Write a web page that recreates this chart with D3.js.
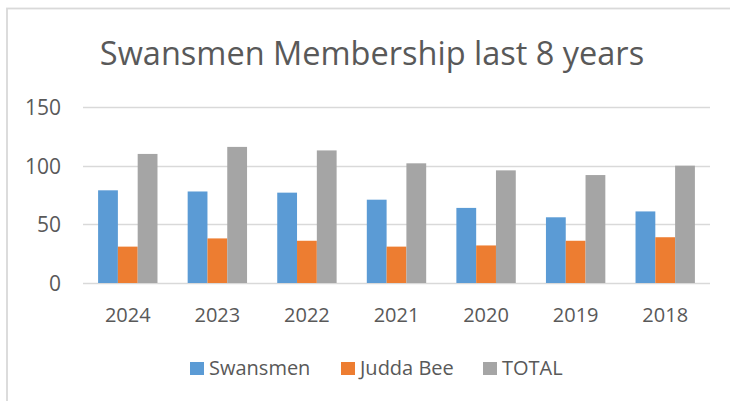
<!DOCTYPE html>
<html>
<head>
<meta charset="utf-8">
<script src="https://cdn.jsdelivr.net/npm/d3@7"></script>
<style>
  body { margin: 0; background: #fff; }
  text { font-family: "Open Sans", "Noto Sans", sans-serif; fill: #595959; }
</style>
</head>
<body>
<div id="chart"></div>
<script>
// Data
let years = ['2024', '2023', '2022', '2021', '2020', '2019', '2018'];
let swansmen = [79, 78, 77, 71, 64, 56, 61];
let juddaBee = [31, 38, 36, 31, 32, 36, 39];
let total = [110, 116, 113, 102, 96, 92, 100];
let seriesNames = ['Swansmen', 'Judda Bee', 'TOTAL'];
let seriesColors = ['#5B9BD5', '#ED7D31', '#A5A5A5'];
let yTicks = [0, 50, 100, 150];

let width = 730;
let height = 401;
let plotLeft = 83, plotRight = 710, plotTop = 107, plotBottom = 283;

let svg = d3.select('#chart').append('svg')
    .attr('width', width)
    .attr('height', height);

// Chart area border (only top and left edges fall inside the picture)
svg.append('rect')
    .attr('x', 7).attr('y', 8.5)
    .attr('width', 740).attr('height', 400)
    .attr('fill', 'none')
    .attr('stroke', '#D9D9D9')
    .attr('stroke-width', 1.8);

// Title
svg.append('text')
    .attr('x', 372).attr('y', 64.5)
    .attr('text-anchor', 'middle')
    .style('font-size', '32.5px')
    .text('Swansmen Membership last 8 years');

// Scales
let xScale = d3.scaleBand().domain(years).range([plotLeft, plotRight]);
let yScale = d3.scaleLinear().domain([0, 150]).range([plotBottom, plotTop]);
let barWidth = xScale.bandwidth() * 0.221;
let groupOffset = (xScale.bandwidth() - 3 * barWidth) / 2;

// Gridlines
svg.append('g').selectAll('line').data(yTicks).enter().append('line')
    .attr('x1', plotLeft).attr('x2', plotRight)
    .attr('y1', d => Math.round(yScale(d)) + 0.5)
    .attr('y2', d => Math.round(yScale(d)) + 0.5)
    .attr('stroke', '#D9D9D9')
    .attr('stroke-width', 1.5);

// Y axis labels
svg.append('g').selectAll('text').data(yTicks).enter().append('text')
    .attr('x', 61)
    .attr('y', d => yScale(d) + 8)
    .attr('text-anchor', 'end')
    .style('font-size', '21px')
    .text(d => d);

// Bars
let seriesData = [swansmen, juddaBee, total];
seriesData.forEach((values, s) => {
  svg.append('g').selectAll('rect').data(values).enter().append('rect')
      .attr('x', (d, i) => xScale(years[i]) + groupOffset + s * barWidth)
      .attr('y', d => yScale(d))
      .attr('width', barWidth)
      .attr('height', d => yScale(0) - yScale(d))
      .attr('fill', seriesColors[s]);
});

// X axis labels
svg.append('g').selectAll('text').data(years).enter().append('text')
    .attr('x', d => xScale(d) + xScale.bandwidth() / 2)
    .attr('y', 321.5)
    .attr('text-anchor', 'middle')
    .style('font-size', '20px')
    .text(d => d);

// Legend
let legendX = [190, 341, 483];
let legend = svg.append('g').selectAll('g').data(seriesNames).enter().append('g')
    .attr('transform', (d, i) => `translate(${legendX[i]}, 375)`);
legend.append('rect')
    .attr('x', 0).attr('y', -13)
    .attr('width', 14).attr('height', 13)
    .attr('fill', (d, i) => seriesColors[i]);
legend.append('text')
    .attr('x', 19).attr('y', 0)
    .style('font-size', '20px')
    .text(d => d);
</script>
</body>
</html>
